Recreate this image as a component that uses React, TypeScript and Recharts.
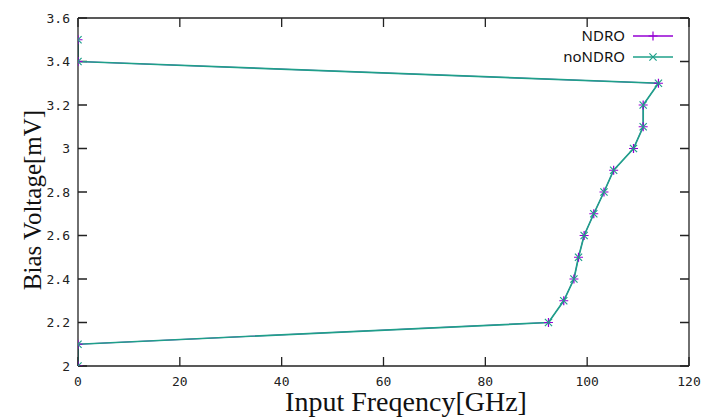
import React from 'react';
import { LineChart, Line, XAxis, YAxis, Customized } from 'recharts';

const biasVoltage = [2.0, 2.1, 2.2, 2.3, 2.4, 2.5, 2.6, 2.7, 2.8, 2.9, 3.0, 3.1, 3.2, 3.3, 3.4, 3.5];
const ndroFrequency = [0, 0, 92.4, 95.4, 97.4, 98.3, 99.4, 101.3, 103.3, 105.2, 109.1, 111.0, 111.0, 114.0, 0, 0];
const noNdroFrequency = [0, 0, 92.4, 95.4, 97.4, 98.3, 99.4, 101.3, 103.3, 105.2, 109.1, 111.0, 111.0, 114.0, 0, 0];
const xTicks = [0, 20, 40, 60, 80, 100, 120];
const yTicks = [2, 2.2, 2.4, 2.6, 2.8, 3, 3.2, 3.4, 3.6];
const seriesNames = ['NDRO', 'noNDRO'];
const xTitle = 'Input Freqency[GHz]';
const yTitle = 'Bias Voltage[mV]';

const ndroData = biasVoltage.map((v, i) => ({ freq: ndroFrequency[i], volt: v }));
const noNdroData = biasVoltage.map((v, i) => ({ freq: noNdroFrequency[i], volt: v }));

const X_DOMAIN: [number, number] = [0, 120];
const Y_DOMAIN: [number, number] = [2, 3.6];

const PURPLE = '#9400d3';
const TEAL = '#1fa08a';
const AXIS = '#222';

// layout (pixels)
const CHART_W = 704;
const CHART_H = 417;
const MARGIN = { top: 18, right: 15, left: 0, bottom: 0 };
const Y_AXIS_W = 78;
const X_AXIS_H = 51;
const TICK_PX = 9;
const PLOT_LEFT = MARGIN.left + Y_AXIS_W;
const PLOT_RIGHT = CHART_W - MARGIN.right;
const PLOT_TOP = MARGIN.top;
const PLOT_BOTTOM = CHART_H - MARGIN.bottom - X_AXIS_H;

// same linear mapping as the chart's axes (domain -> plot box), used for the inner tick marks only
const tickX = (v: number) => PLOT_LEFT + ((v - X_DOMAIN[0]) / (X_DOMAIN[1] - X_DOMAIN[0])) * (PLOT_RIGHT - PLOT_LEFT);
const tickY = (v: number) => PLOT_BOTTOM - ((v - Y_DOMAIN[0]) / (Y_DOMAIN[1] - Y_DOMAIN[0])) * (PLOT_BOTTOM - PLOT_TOP);

const plusPath = (cx: number, cy: number, r: number) => `M${cx - r},${cy}H${cx + r}M${cx},${cy - r}V${cy + r}`;
const crossPath = (cx: number, cy: number, r: number) =>
  `M${cx - r},${cy - r}L${cx + r},${cy + r}M${cx - r},${cy + r}L${cx + r},${cy - r}`;

const renderPlus = (p: any) => {
  if (p.cx == null || p.cy == null) return <g key={`p${p.index}`} />;
  return <path key={`p${p.index}`} d={plusPath(p.cx, p.cy, 4.5)} stroke={PURPLE} strokeWidth={1.2} fill="none" />;
};
const renderCross = (p: any) => {
  if (p.cx == null || p.cy == null) return <g key={`c${p.index}`} />;
  return <path key={`c${p.index}`} d={crossPath(p.cx, p.cy, 3.6)} stroke={TEAL} strokeWidth={1.2} fill="none" />;
};

const InnerTicks = () => {
  const parts: string[] = [];
  xTicks.forEach((t) => {
    const x = tickX(t);
    parts.push(`M${x},${PLOT_BOTTOM}V${PLOT_BOTTOM - TICK_PX}`);
    parts.push(`M${x},${PLOT_TOP}V${PLOT_TOP + TICK_PX}`);
  });
  yTicks.forEach((t) => {
    const y = tickY(t);
    parts.push(`M${PLOT_LEFT},${y}H${PLOT_LEFT + TICK_PX}`);
    parts.push(`M${PLOT_RIGHT},${y}H${PLOT_RIGHT - TICK_PX}`);
  });
  return <path d={parts.join('')} stroke={AXIS} strokeWidth={1.3} fill="none" />;
};

const Decorations = () => (
  <g>
    <InnerTicks />
    <text x={406} y={411} textAnchor="middle" fontFamily="Liberation Serif" fontSize={28} fill="#111">
      {xTitle}
    </text>
    <text
      x={41}
      y={200}
      textAnchor="middle"
      fontFamily="Liberation Serif"
      fontSize={25}
      fill="#111"
      transform="rotate(-90 41 200)"
    >
      {yTitle}
    </text>
    <g fontFamily="Noto Sans" fontSize={15} fill="#111">
      <text x={625} y={41} textAnchor="end">{seriesNames[0]}</text>
      <text x={625} y={62} textAnchor="end">{seriesNames[1]}</text>
    </g>
    <line x1={633} x2={673} y1={36} y2={36} stroke={PURPLE} strokeWidth={1.5} />
    <path d={plusPath(653, 36, 4.5)} stroke={PURPLE} strokeWidth={1.2} fill="none" />
    <line x1={633} x2={673} y1={57} y2={57} stroke={TEAL} strokeWidth={1.5} />
    <path d={crossPath(653, 57, 3.6)} stroke={TEAL} strokeWidth={1.2} fill="none" />
  </g>
);

const tickFont = { fontFamily: 'DejaVu Sans Mono', fontSize: 13, fill: AXIS };
const lineStyle = { stroke: AXIS, strokeWidth: 1.3 };

export default function App() {
  return (
    <div style={{ position: 'absolute', left: 0, top: 0, width: CHART_W, height: CHART_H, background: '#fff' }}>
      <LineChart width={CHART_W} height={CHART_H} margin={MARGIN}>
        <XAxis
          xAxisId="x"
          dataKey="freq"
          type="number"
          domain={X_DOMAIN}
          ticks={xTicks}
          interval={0}
          allowDataOverflow
          tickLine={false}
          tickSize={0}
          tickMargin={11}
          height={X_AXIS_H}
          axisLine={lineStyle}
          tick={tickFont}
        />
        <XAxis
          xAxisId="xt"
          dataKey="freq"
          orientation="top"
          type="number"
          domain={X_DOMAIN}
          allowDataOverflow
          mirror
          tick={false}
          tickLine={false}
          axisLine={lineStyle}
        />
        <YAxis
          yAxisId="y"
          type="number"
          domain={Y_DOMAIN}
          ticks={yTicks}
          interval={0}
          allowDataOverflow
          tickLine={false}
          tickSize={0}
          tickMargin={8}
          width={Y_AXIS_W}
          axisLine={lineStyle}
          tick={tickFont}
        />
        <YAxis
          yAxisId="yr"
          orientation="right"
          type="number"
          domain={Y_DOMAIN}
          allowDataOverflow
          mirror
          tick={false}
          tickLine={false}
          axisLine={lineStyle}
        />
        <Line
          xAxisId="xt"
          yAxisId="yr"
          data={ndroData}
          dataKey="volt"
          stroke="none"
          dot={false}
          activeDot={false}
          legendType="none"
          isAnimationActive={false}
        />
        <Line
          xAxisId="x"
          yAxisId="y"
          data={ndroData}
          dataKey="volt"
          name={seriesNames[0]}
          stroke={PURPLE}
          strokeWidth={1}
          dot={renderPlus}
          activeDot={false}
          isAnimationActive={false}
        />
        <Line
          xAxisId="x"
          yAxisId="y"
          data={noNdroData}
          dataKey="volt"
          name={seriesNames[1]}
          stroke={TEAL}
          strokeWidth={1.7}
          dot={renderCross}
          activeDot={false}
          isAnimationActive={false}
        />
        <Customized component={<Decorations />} />
      </LineChart>
    </div>
  );
}
